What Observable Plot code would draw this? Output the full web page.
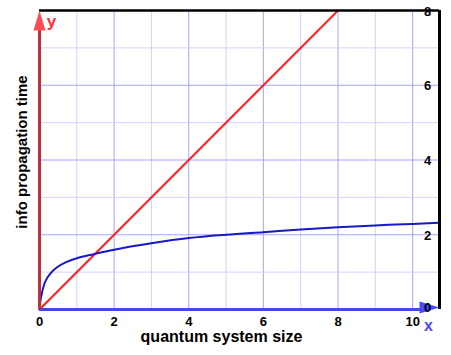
<!DOCTYPE html>
<html>
<head>
<meta charset="utf-8">
<script src="https://cdn.jsdelivr.net/npm/d3@7"></script>
<script src="https://cdn.jsdelivr.net/npm/@observablehq/plot@0.6"></script>
<style>
  html, body { margin: 0; padding: 0; background: white; }
  #chart { width: 451px; height: 355px; }
</style>
</head>
<body>
<div id="chart"></div>
<script>
const xMax = 10.72;
const yMax = 8;
const xTicks = [0, 2, 4, 6, 8, 10];
const yTicks = [2, 4, 6, 8];
const yZeroTick = [0];
const gridMajorX = [2, 4, 6, 8, 10];
const gridMinorX = [1, 3, 5, 7, 9];
const gridMajorY = [2, 4, 6];
const gridMinorY = [1, 3, 5, 7];
const redX = [0, 8];
const redY = [0, 8];
const blueX = [0, 0.02, 0.07, 0.16, 0.29, 0.47, 0.70, 1.0, 1.45, 2, 3, 4, 5, 6, 7, 8, 9, 10, 10.72];
const blueY = [0, 0.2, 0.47, 0.76, 0.96, 1.13, 1.26, 1.37, 1.48, 1.60, 1.77, 1.91, 2.0, 2.07, 2.14, 2.2, 2.25, 2.29, 2.32];
const xLabel = "quantum system size";
const yLabel = "info propagation time";

const red = redX.map((x, i) => ({x, y: redY[i]}));
const blue = blueX.map((x, i) => ({x, y: blueY[i]}));

const upTri = {draw(ctx) { ctx.moveTo(0, 0); ctx.lineTo(6, 20); ctx.lineTo(-6, 20); ctx.closePath(); }};
const rightTri = {draw(ctx) { ctx.moveTo(0, 0); ctx.lineTo(-20, -6); ctx.lineTo(-20, 6); ctx.closePath(); }};

const plot = Plot.plot({
  width: 451,
  height: 355,
  marginLeft: 39,
  marginRight: 12,
  marginTop: 10,
  marginBottom: 46,
  x: {domain: [0, xMax]},
  y: {domain: [0, yMax]},
  style: {fontFamily: "'Liberation Sans', Arial, sans-serif", background: "white", color: "black"},
  marks: [
    Plot.ruleX(gridMinorX, {stroke: "#d2d2ff", strokeWidth: 1}),
    Plot.ruleX(gridMajorX, {stroke: "#a4a4ff", strokeWidth: 1}),
    Plot.ruleY(gridMinorY, {stroke: "#d2d2ff", strokeWidth: 1}),
    Plot.ruleY(gridMajorY, {stroke: "#a4a4ff", strokeWidth: 1}),
    Plot.line(red, {x: "x", y: "y", stroke: "#ff2020", strokeWidth: 2}),
    Plot.line(blue, {x: "x", y: "y", stroke: "#1818c8", strokeWidth: 2, curve: "catmull-rom"}),
    Plot.ruleY([yMax], {stroke: "black", strokeWidth: 2.5}),
    Plot.ruleX([xMax], {stroke: "black", strokeWidth: 3}),
    Plot.ruleY([0], {x1: 0, x2: xMax - 0.4, stroke: "#4646f0", strokeWidth: 3}),
    Plot.ruleX([0], {y1: 0, y2: yMax - 0.4, stroke: "#c0303c", strokeWidth: 3}),
    Plot.dot([{x: 0, y: yMax}], {x: "x", y: "y", symbol: upTri, r: 5, fill: "#ff4a58", stroke: "none"}),
    Plot.dot([{x: xMax, y: 0}], {x: "x", y: "y", symbol: rightTri, r: 5, fill: "#4a4aff", stroke: "none", dy: -2}),
    Plot.text(["y"], {x: 0, y: yMax, dx: 12, dy: 11, fill: "#ff3040", fontSize: 17, fontWeight: "bold"}),
    Plot.text(["x"], {x: xMax, y: 0, dx: -11, dy: 16, fill: "#4a4aff", fontSize: 16, fontWeight: "bold"}),
    Plot.axisX(xTicks, {tickSize: 0, tickPadding: 7, fontSize: 13, fontWeight: "bold", label: null}),
    Plot.axisY(yTicks, {anchor: "right", tickSize: 0, tickPadding: 0, dx: -12, dy: 1, textAnchor: "middle", fontSize: 13, fontWeight: "bold", label: null}),
    Plot.axisY(yZeroTick, {anchor: "right", tickSize: 0, tickPadding: 0, dx: -12, dy: -2, textAnchor: "middle", fontSize: 13, fontWeight: "bold", label: null}),
    Plot.text([xLabel], {frameAnchor: "bottom", dx: -18, dy: 32, fontSize: 16, fontWeight: "bold"}),
    Plot.text([yLabel], {frameAnchor: "left", textAnchor: "middle", dx: -17, dy: -8, rotate: -90, fontSize: 15, fontWeight: "bold"})
  ]
});
document.getElementById("chart").appendChild(plot);
</script>
</body>
</html>
